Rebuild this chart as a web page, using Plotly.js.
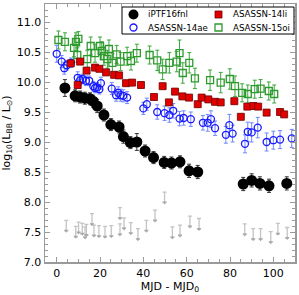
<!DOCTYPE html>
<html>
<head>
<meta charset="utf-8">
<script src="https://cdn.plot.ly/plotly-3.0.1.min.js"></script>
<style>html,body{margin:0;padding:0;background:#fff;}#chart{width:299px;height:295px;}</style>
</head>
<body>
<div id="chart"></div>
<script>
// iPTF16fnl
const fnlX = [3.8, 8.5, 10.8, 13.0, 15.4, 16.8, 18.7, 21.8, 25.0, 28.8, 30.8, 34.0, 37.0, 40.8, 44.7, 49.6, 53.0, 56.9, 61.1, 65.1, 86.1, 90.0, 93.8, 98.0, 106.2];
const fnlY = [9.90, 9.77, 9.75, 9.73, 9.72, 9.68, 9.60, 9.45, 9.29, 9.25, 9.09, 8.99, 9.00, 8.85, 8.74, 8.66, 8.65, 8.67, 8.52, 8.50, 8.30, 8.36, 8.31, 8.27, 8.31];
const fnlErr = [0.14, 0.10, 0.10, 0.10, 0.10, 0.10, 0.11, 0.10, 0.10, 0.10, 0.11, 0.10, 0.14, 0.10, 0.10, 0.10, 0.10, 0.10, 0.11, 0.11, 0.11, 0.11, 0.11, 0.11, 0.11];

// iPTF16fnl upper limits
const limX = [4.4, 8.8, 10.1, 11.8, 13.1, 13.7, 16.3, 17.2, 19.5, 22.3, 25.2, 29.2, 29.2, 31.1, 34.2, 37.5, 41.4, 45.4, 49.8, 53.4, 56.9, 61.5, 65.7, 86.8, 90.7, 94.1, 98.8, 102.1, 106.4];
const limY = [7.52, 7.42, 7.49, 7.47, 7.41, 7.45, 7.63, 7.44, 7.43, 7.42, 7.43, 7.73, 7.46, 7.56, 7.48, 7.38, 7.52, 7.69, 7.99, 7.41, 7.44, 7.59, 7.55, 7.46, 7.38, 7.38, 7.33, 7.47, 7.40];

// ASASSN-14li
const liX = [6.5, 9.7, 10.8, 13.8, 17.7, 19.7, 22.8, 26.5, 28.8, 32.0, 34.8, 38.9, 44.9, 48.9, 51.8, 54.6, 58.0, 61.1, 65.1, 66.9, 70.0, 73.1, 75.7, 82.0, 85.0, 88.0, 90.8, 93.0, 96.9, 103.1, 105.0];
const liY = [10.31, 9.95, 10.34, 10.19, 10.24, 10.22, 10.16, 10.12, 10.11, 9.98, 9.99, 9.95, 9.75, 9.93, 9.66, 9.84, 9.76, 9.74, 9.63, 9.74, 9.71, 9.67, 9.66, 9.68, 9.42, 9.59, 9.60, 9.59, 9.49, 9.50, 9.46];
const liErr = [0.05, 0.05, 0.05, 0.05, 0.05, 0.05, 0.05, 0.05, 0.05, 0.05, 0.05, 0.05, 0.05, 0.05, 0.05, 0.05, 0.05, 0.05, 0.05, 0.05, 0.05, 0.05, 0.05, 0.05, 0.05, 0.05, 0.05, 0.05, 0.05, 0.05, 0.05];

// ASASSN-14ae
const aeX = [0.0, 2.3, 3.5, 4.6, 6.6, 9.7, 10.8, 12.0, 13.5, 15.0, 16.9, 17.7, 18.7, 19.7, 20.4, 25.4, 27.4, 28.4, 29.5, 30.7, 32.5, 40.0, 41.6, 46.4, 49.8, 52.0, 53.8, 56.7, 58.6, 61.9, 67.5, 69.7, 71.2, 73.1, 78.1, 79.7, 81.2, 86.9, 88.2, 90.0, 92.8, 96.9, 100.0, 103.1, 108.5];
const aeY = [10.47, 10.34, 10.23, 10.28, 10.32, 10.07, 10.03, 10.05, 10.02, 10.02, 9.93, 9.90, 9.91, 9.88, 9.98, 9.89, 9.78, 9.82, 9.78, 9.77, 9.74, 9.56, 9.63, 9.50, 9.48, 9.45, 9.52, 9.39, 9.40, 9.38, 9.32, 9.32, 9.38, 9.23, 9.12, 9.28, 9.14, 8.97, 9.17, 9.16, 9.24, 9.00, 9.03, 9.04, 9.06];
const aeErr = [0.14, 0.10, 0.10, 0.08, 0.08, 0.10, 0.08, 0.08, 0.08, 0.08, 0.08, 0.08, 0.08, 0.08, 0.10, 0.10, 0.10, 0.10, 0.10, 0.10, 0.10, 0.10, 0.10, 0.12, 0.12, 0.12, 0.12, 0.12, 0.12, 0.12, 0.12, 0.14, 0.14, 0.12, 0.14, 0.18, 0.14, 0.15, 0.16, 0.16, 0.17, 0.15, 0.15, 0.15, 0.15];

// ASASSN-15oi
const oiX = [0.8, 3.8, 8.0, 8.9, 9.5, 10.0, 14.1, 15.7, 17.7, 20.0, 20.8, 21.8, 23.4, 24.1, 25.7, 27.7, 29.5, 32.5, 34.3, 37.0, 42.9, 46.4, 48.9, 52.0, 55.4, 56.7, 58.2, 61.2, 63.8, 70.8, 75.7, 79.9, 82.3, 85.6, 88.2, 91.4, 94.1, 97.9, 100.4];
const oiY = [10.70, 10.67, 10.57, 10.67, 10.45, 10.72, 10.38, 10.60, 10.48, 10.60, 10.52, 10.43, 10.38, 10.55, 10.32, 10.46, 10.34, 10.43, 10.35, 10.48, 10.45, 10.36, 10.21, 10.32, 10.34, 10.48, 10.15, 10.32, 10.06, 10.03, 9.99, 10.05, 9.93, 9.82, 9.80, 9.88, 9.89, 9.85, 9.80];
const oiErr = [0.15, 0.15, 0.15, 0.15, 0.12, 0.12, 0.15, 0.15, 0.15, 0.15, 0.15, 0.15, 0.15, 0.15, 0.15, 0.15, 0.15, 0.15, 0.15, 0.15, 0.15, 0.17, 0.17, 0.17, 0.17, 0.22, 0.17, 0.17, 0.17, 0.17, 0.17, 0.17, 0.17, 0.15, 0.15, 0.15, 0.15, 0.15, 0.15];

// legend entries (in reading order)
const legendNames = ['iPTF16fnl', 'ASASSN-14li', 'ASASSN-14ae', 'ASASSN-15oi'];

const limLen = limY.map(() => 0.175);
const limZero = limY.map(() => 0);

const styles = {
  'ASASSN-15oi': {kind: 'rect', size: 7, fill: 'rgba(0,0,0,0)', line: '#2e9a2e', lw: 1.3},
  'ASASSN-14ae': {kind: 'circle', size: 7, fill: 'rgba(0,0,0,0)', line: '#1a1aff', lw: 1.3},
  'ASASSN-14li': {kind: 'rect', size: 7, fill: '#e00000', line: '#700000', lw: 0.8},
  'iPTF16fnl': {kind: 'circle', size: 10, fill: '#000000', line: '#000000', lw: 0}
};

const traces = [
  {
    x: limX, y: limY, type: 'scatter', mode: 'markers', showlegend: false, hoverinfo: 'skip',
    marker: {symbol: 'triangle-down', size: 4, color: '#a8a8a8'},
    error_y: {type: 'data', symmetric: false, array: limLen, arrayminus: limZero, color: '#c4c4c4', thickness: 1.3, width: 2}
  },
  {
    name: 'ASASSN-15oi', showlegend: false,
    x: oiX, y: oiY, type: 'scatter', mode: 'markers',
    marker: {symbol: 'square-open', size: 7, color: '#2e9a2e', line: {width: 1.3, color: '#2e9a2e'}},
    error_y: {type: 'data', array: oiErr, color: '#3aa53a', thickness: 1, width: 2}
  },
  {
    name: 'ASASSN-14ae', showlegend: false,
    x: aeX, y: aeY, type: 'scatter', mode: 'markers',
    marker: {symbol: 'circle-open', size: 7, color: '#1a1aff', line: {width: 1.3, color: '#1a1aff'}},
    error_y: {type: 'data', array: aeErr, color: '#6f86ff', thickness: 1, width: 2}
  },
  {
    name: 'ASASSN-14li', showlegend: false,
    x: liX, y: liY, type: 'scatter', mode: 'markers',
    marker: {symbol: 'square', size: 7, color: '#e00000', line: {width: 0.8, color: '#700000'}},
    error_y: {type: 'data', array: liErr, color: '#f08080', thickness: 1, width: 2}
  },
  {
    name: 'iPTF16fnl', showlegend: false,
    x: fnlX, y: fnlY, type: 'scatter', mode: 'markers',
    marker: {symbol: 'circle', size: 11, color: '#000000'},
    error_y: {type: 'data', array: fnlErr, color: '#333333', thickness: 1, width: 2}
  }
];

// Manual legend box (paper coordinates), 2 columns x 2 rows
const W = 299, H = 295, mL = 45, mR = 4, mT = 4, mB = 33;
const pw = W - mL - mR, ph = H - mT - mB;
const px = (v) => (v - mL) / pw;
const py = (v) => (H - mB - v) / ph;

const box = {x0: 122, x1: 294, y0: 7, y1: 34};
const colMarker = [133.5, 218.5];
const colText = [146, 231];
const rowY = [14.5, 27.5];

const shapes = [{
  type: 'rect', xref: 'paper', yref: 'paper',
  x0: px(box.x0), x1: px(box.x1), y0: py(box.y1), y1: py(box.y0),
  line: {color: '#000', width: 1}, fillcolor: '#fff', layer: 'above'
}];
const annotations = [];
legendNames.forEach((nm, i) => {
  const c = i % 2, r = Math.floor(i / 2);
  const s = styles[nm];
  const h = s.size / 2;
  shapes.push({
    type: s.kind, xref: 'paper', yref: 'paper',
    xsizemode: 'pixel', ysizemode: 'pixel',
    xanchor: px(colMarker[c]), yanchor: py(rowY[r]),
    x0: -h, x1: h, y0: -h, y1: h,
    fillcolor: s.fill, line: {color: s.line, width: s.lw}, layer: 'above'
  });
  annotations.push({
    xref: 'paper', yref: 'paper', x: px(colText[c]), y: py(rowY[r]),
    xanchor: 'left', yanchor: 'middle', showarrow: false, text: nm,
    font: {family: 'DejaVu Sans', size: 8.7, color: '#000'}
  });
});

const axisCommon = {
  showline: true, linecolor: '#9a9a9a', linewidth: 1.5, mirror: 'ticks',
  ticks: 'inside', ticklen: 5, tickwidth: 1, tickcolor: '#9a9a9a',
  showgrid: false, zeroline: false,
  tickfont: {family: 'DejaVu Sans', size: 11, color: '#000'}
};

const layout = {
  width: W, height: H,
  margin: {l: mL, r: mR, t: mT, b: mB, pad: 0},
  paper_bgcolor: '#fff', plot_bgcolor: '#fff',
  font: {family: 'DejaVu Sans', color: '#000'},
  showlegend: false,
  xaxis: Object.assign({}, axisCommon, {
    range: [-5.4, 110], dtick: 20, tick0: 0,
    minor: {dtick: 5, ticks: 'inside', ticklen: 3, tickcolor: '#9a9a9a'},
    title: {text: 'MJD - MJD<sub>0</sub>', font: {family: 'DejaVu Sans', size: 11}, standoff: 2}
  }),
  yaxis: Object.assign({}, axisCommon, {
    range: [7.0, 11.3], dtick: 0.5, tick0: 7, tickformat: '.1f',
    minor: {dtick: 0.1, ticks: 'inside', ticklen: 3, tickcolor: '#9a9a9a'},
    title: {text: 'log<sub>10</sub>(L<sub>BB</sub> / L<sub>⊙</sub>)', font: {family: 'DejaVu Sans', size: 11}, standoff: 4}
  }),
  shapes: shapes,
  annotations: annotations
};

Plotly.newPlot('chart', traces, layout, {staticPlot: true, displayModeBar: false});
</script>
</body>
</html>
